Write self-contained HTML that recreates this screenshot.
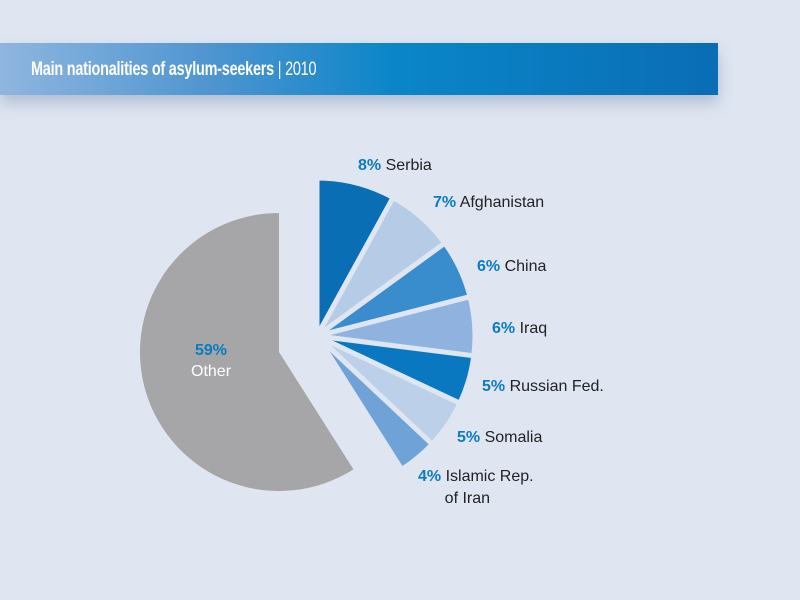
<!DOCTYPE html>
<html><head><meta charset="utf-8"><style>
body{margin:0;width:800px;height:600px;background:#dfe6f2;overflow:hidden;position:relative;font-family:"Liberation Sans",sans-serif}
#bar{position:absolute;left:0;top:43px;width:718px;height:52px;background:linear-gradient(90deg,#8fb6df 0%,#4d94d0 30%,#0a86c8 55%,#0a6db5 100%);box-shadow:0 8px 14px rgba(120,140,170,0.45)}
#bar span{position:absolute;left:31px;top:16px;color:#fff;font-size:19px;font-weight:bold;letter-spacing:-0.3px;transform:scaleX(0.76);transform-origin:0 0;white-space:nowrap}
#bar span i{font-style:normal;font-weight:normal}
.l{position:absolute;font-size:16px;color:#222;white-space:nowrap}
.l b{color:#0a7cc0;font-weight:bold}
</style></head><body>
<div id="bar"><span>Main nationalities of asylum-seekers <i>| 2010</i></span></div>
<svg id="s" width="800" height="600" style="position:absolute;left:0;top:0"></svg>
<div class="l" style="left:358px;top:157px"><b>8%</b> Serbia</div>
<div class="l" style="left:433px;top:194px"><b>7%</b> Afghanistan</div>
<div class="l" style="left:477px;top:258px"><b>6%</b> China</div>
<div class="l" style="left:492px;top:320px"><b>6%</b> Iraq</div>
<div class="l" style="left:482px;top:378px"><b>5%</b> Russian Fed.</div>
<div class="l" style="left:457px;top:429px"><b>5%</b> Somalia</div>
<div class="l" style="left:418px;top:466px;line-height:22px"><b>4%</b> Islamic Rep.<br>&nbsp;&nbsp;&nbsp;&nbsp;&nbsp;&nbsp;of Iran</div>
<div class="l" style="left:191px;top:340px;color:#fff;text-align:center;line-height:21px"><b style="color:#0a7cc0">59%</b><br>Other</div>
<script>
var s=document.getElementById('s'),NS='http://www.w3.org/2000/svg';
function arc(cx,cy,r,a0,a1,col,sw){
 function p(a){var t=a*Math.PI/180;return [cx+r*Math.sin(t),cy-r*Math.cos(t)];}
 var A=p(a0),B=p(a1),lg=(a1-a0)>180?1:0;
 var e=document.createElementNS(NS,'path');
 e.setAttribute('d','M'+cx+','+cy+'L'+A[0]+','+A[1]+'A'+r+','+r+' 0 '+lg+' 1 '+B[0]+','+B[1]+'Z');
 e.setAttribute('fill',col);if(sw){e.setAttribute('stroke','#dfe6f2');e.setAttribute('stroke-width',sw);e.setAttribute('stroke-linejoin','round');}
 s.appendChild(e);}
arc(279,352,139,147.6,360,'#a6a6a8',0);
var d=[[8,'#0a6eb4'],[7,'#b5cbe6'],[6,'#3a8dcc'],[6,'#8fb3de'],[5,'#0a78c0'],[5,'#bcd0ea'],[4,'#6fa2d6']];
var a=0;d.forEach(function(x){var b=a+x[0]*3.6;arc(317,336,158,a,b,x[1],5);a=b;});
</script>
</body></html>
